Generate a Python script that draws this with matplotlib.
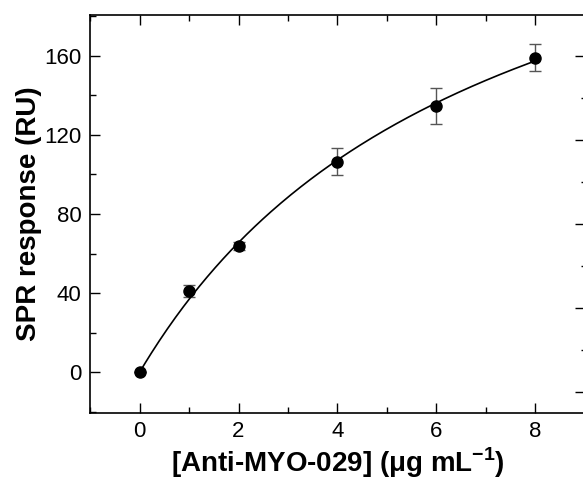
import matplotlib
matplotlib.use('Agg')
import matplotlib.pyplot as plt
import numpy as np
from matplotlib.ticker import MultipleLocator

plt.rcParams['font.family'] = ['Liberation Sans', 'DejaVu Sans']
plt.rcParams['mathtext.fontset'] = 'custom'
plt.rcParams['mathtext.rm'] = 'Liberation Sans'
plt.rcParams['mathtext.bf'] = 'Liberation Sans:bold'

# Data
conc = np.array([0, 1, 2, 4, 6, 8])
response = np.array([0, 41, 64, 106.5, 134.5, 159])
err = np.array([0, 3, 2, 7, 9, 7])

# Langmuir fit (Bmax*x/(Kd+x)) from the points, simple grid search on Kd
best = None
for kd in np.linspace(1, 30, 2901):
    g = conc / (kd + conc)
    bmax = np.dot(g, response) / np.dot(g, g)
    sse = np.sum((response - bmax * g) ** 2)
    if best is None or sse < best[0]:
        best = (sse, kd, bmax)
_, kd, bmax = best
xfit = np.linspace(0, 8, 200)
yfit = bmax * xfit / (kd + xfit)

fig = plt.figure(figsize=(5.83, 4.82), dpi=100)
ax = fig.add_axes([0.1544, 0.1432, 0.849, 0.8257])

ax.plot(xfit, yfit, color='black', lw=1.2, zorder=2)
ax.errorbar(conc, response, yerr=err, fmt='none', ecolor='#555555',
            elinewidth=1, capsize=4, capthick=1, zorder=1)
ax.plot(conc, response, 'o', color='black', ms=8, zorder=3)

ax.set_xlim(-1, 9)
ax.set_ylim(-20.5, 180.5)
ax.xaxis.set_major_locator(MultipleLocator(2))
ax.xaxis.set_minor_locator(MultipleLocator(1))
ax.yaxis.set_major_locator(MultipleLocator(40))
ax.yaxis.set_minor_locator(MultipleLocator(20))
ax.tick_params(which='both', direction='in', top=True, right=False,
               width=1, labelsize=16, pad=6)
ax.tick_params(which='major', length=7)
ax.tick_params(which='minor', length=4)
for s in ax.spines.values():
    s.set_linewidth(1.2)

# Right-hand axis of the original figure (labels cut off)
ax2 = ax.twinx()
ax2.set_ylim(-0.25, 4.49)
ax2.yaxis.set_major_locator(MultipleLocator(1))
ax2.yaxis.set_minor_locator(MultipleLocator(0.5))
ax2.tick_params(which='both', direction='in', width=1, labelright=False)
ax2.tick_params(which='major', length=7)
ax2.tick_params(which='minor', length=3)
for s in ax2.spines.values():
    s.set_visible(False)

ax.set_ylabel('SPR response (RU)', fontsize=20, fontweight='bold', labelpad=2)
ax.set_xlabel(r'[Anti-MYO-029] (μg mL$^{\mathbf{-1}}$)', fontsize=20,
              fontweight='bold', labelpad=2)

fig.savefig('out.png', dpi=100)
